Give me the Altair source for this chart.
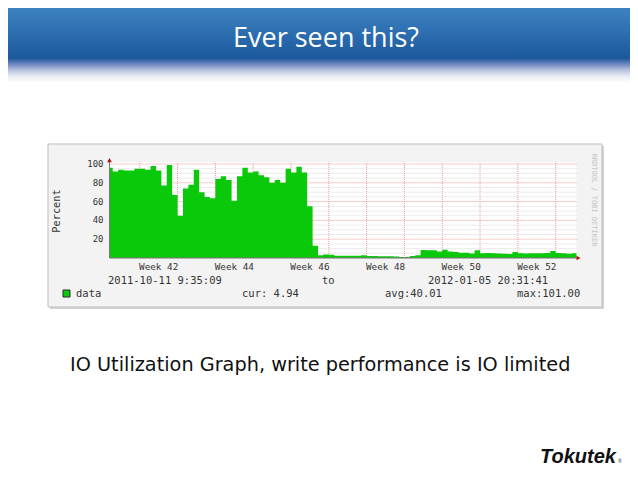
import altair as alt
import pandas as pd

# ---------------- data ----------------
START = "2011-10-11T09:35:09"
END = "2012-01-05T20:31:41"

# daily IO utilisation (%), Oct 11 (partial) .. Jan 5 (partial)
values = [96, 92, 94, 93, 93, 95, 95, 94, 98, 93,
          77, 99, 67, 45, 74, 78, 94, 70, 65, 63.5,
          84, 87, 83, 61, 87, 96, 91, 92, 88, 86,
          80, 83, 80, 95, 91, 97, 91, 55, 13, 3,
          3.8, 3.5, 2.3, 2.3, 2.5, 2.3, 2.5, 2.8, 2, 2,
          1.8, 1.8, 1.8, 1.5, 1, 1, 2, 3, 8.5, 8.3,
          8.3, 7, 8.7, 6.8, 6.5, 5.6, 5.5, 4.8, 8.3, 5,
          5.2, 5, 4.8, 4.5, 4.3, 6.5, 5, 4.8, 5, 5,
          5, 5.3, 7.5, 5.2, 5, 4.5, 4.94]

day_starts = [d.strftime("%Y-%m-%dT%H:%M:%S")
              for d in pd.date_range("2011-10-12", "2012-01-05", freq="D")]
times = [START] + day_starts + [END]
vals = values + [values[-1]]

y_minor = [5, 10, 15, 25, 30, 35, 45, 50, 55, 65, 70, 75, 85, 90, 95]
y_major = [20, 40, 60, 80, 100]
y_labels = ["20", "40", "60", "80", "100"]
week_lines = ["2011-10-17", "2011-10-24", "2011-10-31", "2011-11-07", "2011-11-14",
              "2011-11-21", "2011-11-28", "2011-12-05", "2011-12-12", "2011-12-19",
              "2011-12-26", "2012-01-02"]
week_label_pos = ["2011-10-20T12:00:00", "2011-11-03T12:00:00", "2011-11-17T12:00:00",
                  "2011-12-01T12:00:00", "2011-12-15T12:00:00", "2011-12-29T12:00:00"]
week_labels = ["Week 42", "Week 44", "Week 46", "Week 48", "Week 50", "Week 52"]

cur_v, avg_v, max_v = 4.94, 40.01, 101.00

# ---------------- styling ----------------
GREEN = "#0ac80a"
MONO = "DejaVu Sans Mono"
TXT = "#333333"
W, H = 622, 463

xs = alt.Scale(domain=[alt.DateTime(year=2011, month=10, date=11, hours=9, minutes=35, seconds=9),
                       alt.DateTime(year=2012, month=1, date=5, hours=20, minutes=31, seconds=41)],
               range=[101.5, 568.5], nice=False)
ys = alt.Scale(domain=[0, 100], range=[250, 156], nice=False, zero=False)

one = pd.DataFrame({"a": [0]})

def X(f):
    return alt.X(f, type="temporal", scale=xs, axis=None)

def Y(f):
    return alt.Y(f, type="quantitative", scale=ys, axis=None)

header = alt.Chart(one).mark_rect(
    color=alt.Gradient(
        gradient="linear", x1=0, x2=0, y1=0, y2=1,
        stops=[alt.GradientStop(color="#3d82c0", offset=0),
               alt.GradientStop(color="#2e70b2", offset=0.3),
               alt.GradientStop(color="#1d5a9e", offset=0.64),
               alt.GradientStop(color="#1e589b", offset=0.67),
               alt.GradientStop(color="#6f88bf", offset=0.75),
               alt.GradientStop(color="#b9c3de", offset=0.83),
               alt.GradientStop(color="#e8ebf3", offset=0.91),
               alt.GradientStop(color="#ffffff", offset=1)])
).encode(x=alt.value(0), x2=alt.value(W), y=alt.value(0), y2=alt.value(75))

title = alt.Chart(one).mark_text(
    text="Ever seen this?", font="Open Sans", fontSize=27, color="white",
    align="center", baseline="alphabetic"
).encode(x=alt.value(318), y=alt.value(39))

shadow = alt.Chart(one).mark_rect(color="#d4d4d4").encode(
    x=alt.value(42), x2=alt.value(596), y=alt.value(138), y2=alt.value(301))
box = alt.Chart(one).mark_rect(fill="#f3f3f3", stroke="#bdbdbd", strokeWidth=1).encode(
    x=alt.value(40), x2=alt.value(594), y=alt.value(136), y2=alt.value(299))

canvas_df = pd.DataFrame({"t0": [START], "t1": [END], "v0": [0], "v1": [102]})
canvas = alt.Chart(canvas_df).mark_rect(color="white").encode(
    x=X("t0"), x2="t1", y=Y("v0"), y2="v1")

minor_df = pd.DataFrame({"v": y_minor, "t0": START, "t1": END})
minor = alt.Chart(minor_df).mark_rule(color="#d8d8d8", strokeDash=[1, 1], strokeWidth=1).encode(
    x=X("t0"), x2="t1", y=Y("v"))

major_df = pd.DataFrame({"v": y_major, "t0": START, "t1": END})
major = alt.Chart(major_df).mark_rule(color="#ec9a9a", strokeDash=[1, 1], strokeWidth=1).encode(
    x=X("t0"), x2="t1", y=Y("v"))

vgrid_df = pd.DataFrame({"t": week_lines, "v0": 0, "v1": 102})
vgrid = alt.Chart(vgrid_df).mark_rule(color="#ec9a9a", strokeDash=[1, 1], strokeWidth=1).encode(
    x=X("t"), y=Y("v0"), y2="v1")

data_df = pd.DataFrame({"t": times, "v": vals})
area = alt.Chart(data_df).mark_area(interpolate="step-after", color=GREEN, opacity=1).encode(
    x=X("t"), y=Y("v"))

axis_df = pd.DataFrame({"t0": [START], "t1": [END], "v0": [0], "v1": [102]})
xaxis = alt.Chart(axis_df).mark_rule(color="#777777", strokeWidth=1).encode(
    x=X("t0"), x2="t1", y=Y("v0"))
yaxis = alt.Chart(axis_df).mark_rule(color="#777777", strokeWidth=1).encode(
    x=X("t0"), y=Y("v0"), y2="v1")
arrow_r = alt.Chart(axis_df).mark_point(shape="triangle-right", filled=True, color="#b01010",
                                        size=22, opacity=1, xOffset=2).encode(x=X("t1"), y=Y("v0"))
arrow_u = alt.Chart(axis_df).mark_point(shape="triangle-up", filled=True, color="#b01010",
                                        size=22, opacity=1, yOffset=-2).encode(x=X("t0"), y=Y("v1"))

ylab_df = pd.DataFrame({"v": y_major, "lab": y_labels, "t": START})
ylabs = alt.Chart(ylab_df).mark_text(font=MONO, fontSize=9, color=TXT, align="right",
                                     baseline="middle", dx=-6).encode(
    x=X("t"), y=Y("v"), text="lab:N")

wk_df = pd.DataFrame({"t": week_label_pos, "lab": week_labels})
wklabs = alt.Chart(wk_df).mark_text(font=MONO, fontSize=9.3, color=TXT, align="center",
                                    baseline="alphabetic").encode(
    x=X("t"), y=alt.value(262), text="lab:N")

def txt(s, x, y, size=10.5, color=TXT, align="left", angle=0, font=MONO, baseline="alphabetic",
        weight="normal", style="normal"):
    kw = dict(text=s, font=font, fontSize=size, color=color, align=align, baseline=baseline,
              fontWeight=weight, fontStyle=style)
    if angle:
        kw["angle"] = angle
    return alt.Chart(one).mark_text(**kw).encode(x=alt.value(x), y=alt.value(y))

percent = txt("Percent", 49, 203, size=10.3, angle=270, align="center", baseline="middle")
from_t = txt("2011-10-11 9:35:09", 100, 276)
to_t = txt("to", 314, 276)
end_t = txt("2012-01-05 20:31:41", 420, 276)
leg_sq = alt.Chart(one).mark_rect(fill=GREEN, stroke="#2a2a2a", strokeWidth=1).encode(
    x=alt.value(55), x2=alt.value(62), y=alt.value(282), y2=alt.value(289))
leg_t = txt("data", 68, 289)
cur_t = txt(f"cur: {cur_v:.2f}", 234, 289)
avg_t = txt(f"avg:{avg_v:.2f}", 377, 289)
max_t = txt(f"max:{max_v:.2f}", 509, 289)
rrd_t = txt("RRDTOOL / TOBI OETIKER", 586, 192, size=7, color="#c4c4c4", angle=90,
            align="center", baseline="middle")

caption = txt("IO Utilization Graph, write performance is IO limited", 62, 363,
              size=19.3, color="#111111", font="DejaVu Sans")
logo = txt("Tokutek", 532, 455, size=20, color="#111111", font="Liberation Sans",
           weight="bold", style="italic")
reg = txt("®", 610, 455, size=5, color="#111111", font="Liberation Sans")

chart = alt.layer(
    header, title, shadow, box, canvas, minor, major, vgrid, area, xaxis, yaxis,
    arrow_r, arrow_u, ylabs, wklabs, percent, from_t, to_t, end_t, leg_sq, leg_t,
    cur_t, avg_t, max_t, rrd_t, caption, logo, reg
).properties(
    width=W, height=H, padding=0,
    autosize=alt.AutoSizeParams(type="none"),
    background="white"
).configure_view(stroke=None)

chart.save("out.html", embed_options={"renderer": "svg", "actions": False})
